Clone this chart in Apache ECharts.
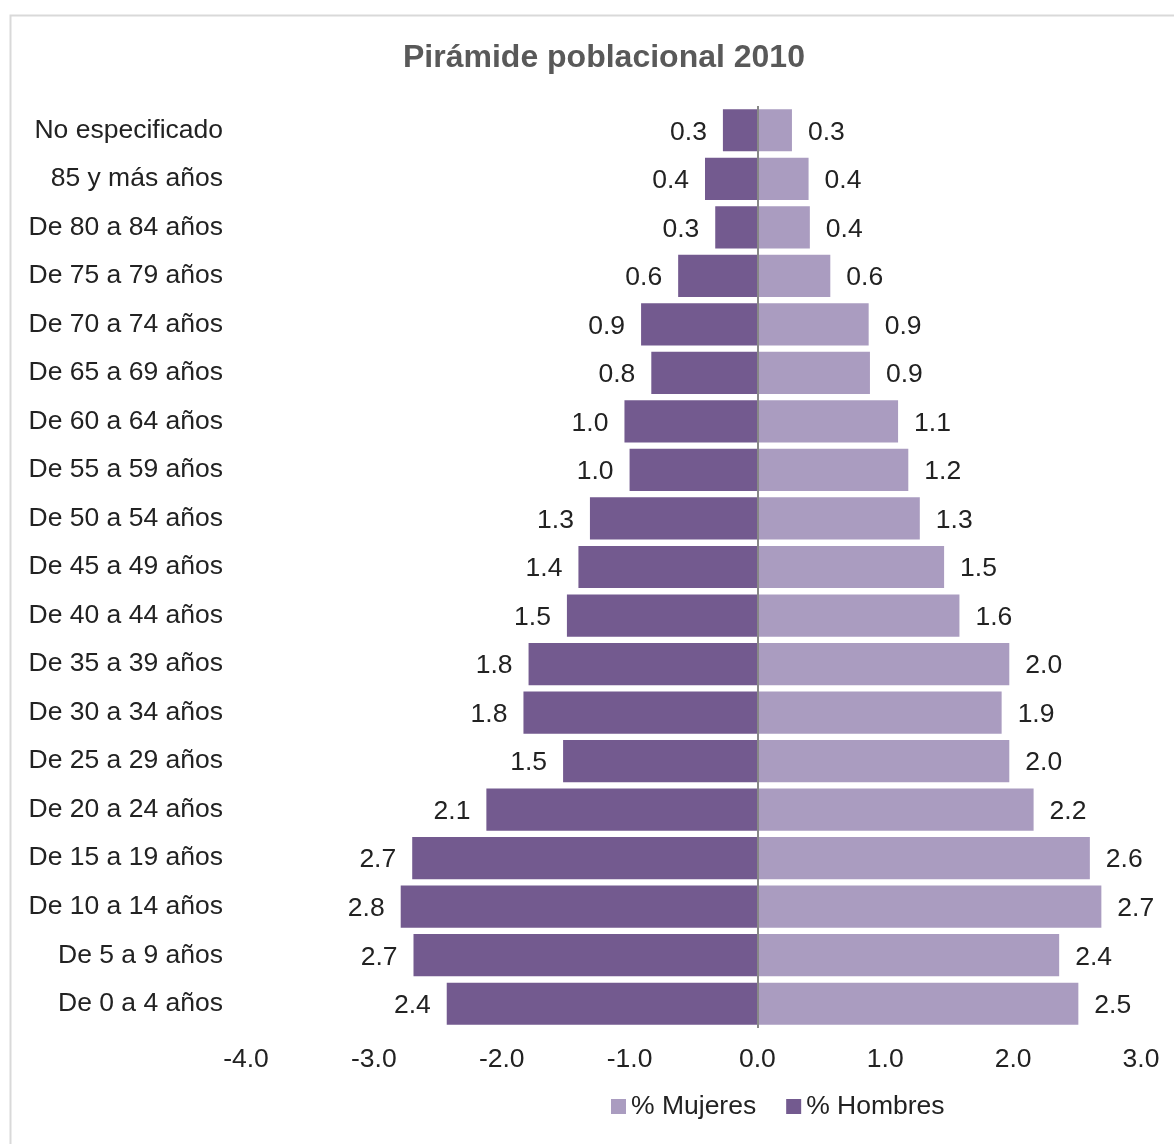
<!DOCTYPE html>
<html>
<head>
<meta charset="utf-8">
<script src="https://cdn.jsdelivr.net/npm/echarts@6/dist/echarts.min.js"></script>
<style>
html,body{margin:0;padding:0;background:#fff;}
#c{width:1174px;height:1144px;}
</style>
</head>
<body>
<div id="c"></div>
<script>
const titleText = 'Pirámide poblacional 2010';
const categories = ['De 0 a 4 años','De 5 a 9 años','De 10 a 14 años','De 15 a 19 años','De 20 a 24 años','De 25 a 29 años','De 30 a 34 años','De 35 a 39 años','De 40 a 44 años','De 45 a 49 años','De 50 a 54 años','De 55 a 59 años','De 60 a 64 años','De 65 a 69 años','De 70 a 74 años','De 75 a 79 años','De 80 a 84 años','85 y más años','No especificado'];
const hombres = [2.43, 2.69, 2.79, 2.70, 2.12, 1.52, 1.83, 1.79, 1.49, 1.40, 1.31, 1.00, 1.04, 0.83, 0.91, 0.62, 0.33, 0.41, 0.27];
const mujeres = [2.51, 2.36, 2.69, 2.60, 2.16, 1.97, 1.91, 1.97, 1.58, 1.46, 1.27, 1.18, 1.10, 0.88, 0.87, 0.57, 0.41, 0.40, 0.27];
const xTicks = {min: -4, max: 3, interval: 1};
const seriesNames = ['% Mujeres', '% Hombres'];

const font = 'Liberation Sans, Arial, sans-serif';
const fs = 26.5;
const chart = echarts.init(document.getElementById('c'));
chart.setOption({
  animation: false,
  backgroundColor: '#fff',
  title: {
    text: titleText, left: 398, top: 37,
    textStyle: {fontFamily: font, fontSize: 32, fontWeight: 'bold', color: '#595959'}
  },
  graphic: [{
    type: 'rect', shape: {x: 10.5, y: 15.5, width: 1200, height: 1200},
    style: {fill: 'none', stroke: '#d9d9d9', lineWidth: 2}, silent: true
  }],
  legend: {
    data: seriesNames, bottom: 19, left: 606, itemWidth: 15, itemHeight: 15, itemGap: 30,
    icon: 'rect',
    textStyle: {fontFamily: font, fontSize: fs, color: '#222'}
  },
  grid: {left: 246, right: 33, top: 106, bottom: 116, containLabel: false},
  xAxis: {
    type: 'value', min: xTicks.min, max: xTicks.max, interval: xTicks.interval,
    axisLine: {show: false}, axisTick: {show: false}, splitLine: {show: false},
    axisLabel: {fontFamily: font, fontSize: fs, color: '#222', margin: 18,
      formatter: v => v.toFixed(1)}
  },
  yAxis: {
    type: 'category', data: categories,
    axisLine: {show: false}, axisTick: {show: false},
    axisLabel: {fontFamily: font, fontSize: fs, color: '#222', margin: 23, padding: [3,0,0,0]}
  },
  series: [
    {
      name: '% Hombres', type: 'bar', barGap: '-100%', barCategoryGap: '13%',
      data: hombres.map(v => -v),
      itemStyle: {color: '#735A8F'},
      label: {show: true, position: 'left', distance: 16, fontFamily: font, fontSize: fs, color: '#222',
        offset: [0, 2], formatter: p => Math.abs(p.value).toFixed(1)},
      markLine: {
        silent: true, symbol: 'none', label: {show: false},
        lineStyle: {color: '#888', width: 2, type: 'solid'},
        data: [{xAxis: 0}]
      }
    },
    {
      name: '% Mujeres', type: 'bar', barGap: '-100%', barCategoryGap: '13%',
      data: mujeres,
      itemStyle: {color: '#AA9CC0'},
      label: {show: true, position: 'right', distance: 16, fontFamily: font, fontSize: fs, color: '#222',
        offset: [0, 2], formatter: p => p.value.toFixed(1)}
    }
  ]
});
</script>
</body>
</html>
